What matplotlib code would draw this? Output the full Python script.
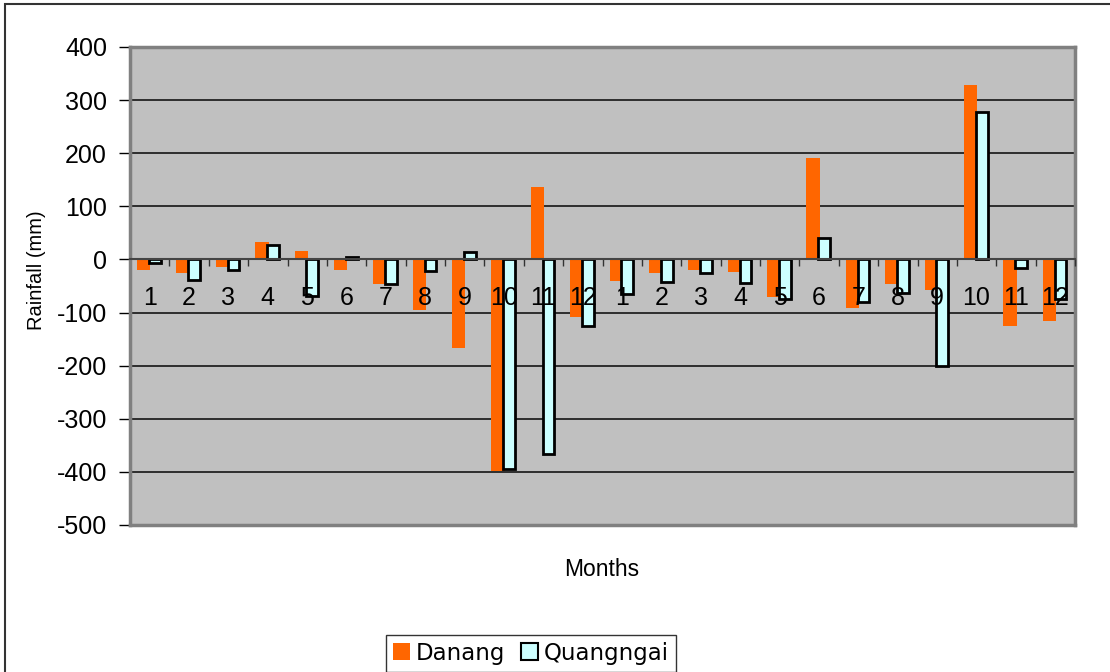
import matplotlib
matplotlib.use("Agg")
import matplotlib.pyplot as plt
from matplotlib.patches import Rectangle, Patch
import numpy as np

months = ["1", "2", "3", "4", "5", "6", "7", "8", "9", "10", "11", "12",
          "1", "2", "3", "4", "5", "6", "7", "8", "9", "10", "11", "12"]
danang = [-20, -26, -15, 33, 16, -19, -47, -95, -166, -398, 136, -109,
          -41, -26, -19, -24, -71, 191, -92, -47, -57, 328, -126, -115]
quangngai = [-7, -38, -20, 28, -68, 5, -46, -22, 14, -395, -367, -126,
             -65, -43, -25, -45, -74, 41, -81, -63, -200, 277, -16, -74]
yticks = [-500, -400, -300, -200, -100, 0, 100, 200, 300, 400]

W, H = 1110, 672
fig = plt.figure(figsize=(W / 100, H / 100), dpi=100)
plt.rcParams['font.family'] = ['Liberation Sans', 'DejaVu Sans']

# figure border
fig.patches.append(Rectangle((5 / W, -0.1), 1.2, 1 - 4 / H + 0.1,
                             transform=fig.transFigure, fill=False,
                             edgecolor='#333333', linewidth=1.5))

left, right, top, bottom = 130, 1075, 47, 525
ax = fig.add_axes([left / W, 1 - bottom / H, (right - left) / W, (bottom - top) / H])
ax.set_facecolor('#C0C0C0')

x = np.arange(len(months))
bw = 0.3
ax.bar(x - 0.15, danang, width=bw + 0.04, color='#FF6600', edgecolor='none', zorder=3)
ax.bar(x + 0.13, quangngai, width=bw, color='#CCFFFF', edgecolor='black', linewidth=2, zorder=4)

ax.set_xlim(-0.5, len(months) - 0.5)
ax.set_ylim(-500, 400)
ax.set_yticks(yticks)
ax.set_yticklabels([str(v) for v in yticks], fontsize=18)
ax.tick_params(axis='y', length=8, width=1, direction='out', pad=8.5)
ax.yaxis.grid(True, color='#222222', linewidth=1.3, zorder=1)
ax.set_axisbelow(True)
ax.tick_params(axis='x', bottom=False, labelbottom=False)
for s in ax.spines.values():
    s.set_color('#808080')
    s.set_linewidth(2.5)

sec = ax.secondary_xaxis(500 / 900)
sec.set_zorder(6)
sec.xaxis.set_ticks_position('bottom')
sec.set_xticks(x)
sec.set_xticklabels(months, fontsize=18)
sec.set_xticks(np.arange(0.5, len(months), 1.0), minor=True)
sec.tick_params(axis='x', which='both', bottom=True, labelbottom=True, top=False, labeltop=False)
sec.tick_params(axis='x', which='major', length=0, pad=19)
sec.tick_params(axis='x', which='minor', length=5, width=1, direction='out', color='#333333')
for s in sec.spines.values():
    s.set_color('#444444')
    s.set_linewidth(1.5)

fig.text(37 / W, 1 - 270 / H, 'Rainfall (mm)', rotation=90, ha='center', va='center', fontsize=14.5)
fig.text(602 / W, 1 - 570 / H, 'Months', ha='center', va='center', fontsize=16.5)

handles = [Patch(facecolor='#FF6600', edgecolor='none', label='Danang'),
           Patch(facecolor='#CCFFFF', edgecolor='black', linewidth=1.5, label='Quangngai')]
leg = fig.legend(handles=handles, loc='upper left', bbox_to_anchor=(386 / W, 1 - 635 / H),
                 ncol=2, frameon=True, fancybox=False, edgecolor='black',
                 prop={'family': 'DejaVu Sans', 'size': 16.5},
                 handlelength=0.75, handleheight=0.75, handletextpad=0.25,
                 columnspacing=0.7, borderpad=0.3, borderaxespad=0)
leg.get_frame().set_linewidth(1)

fig.savefig('out.png', dpi=100)
